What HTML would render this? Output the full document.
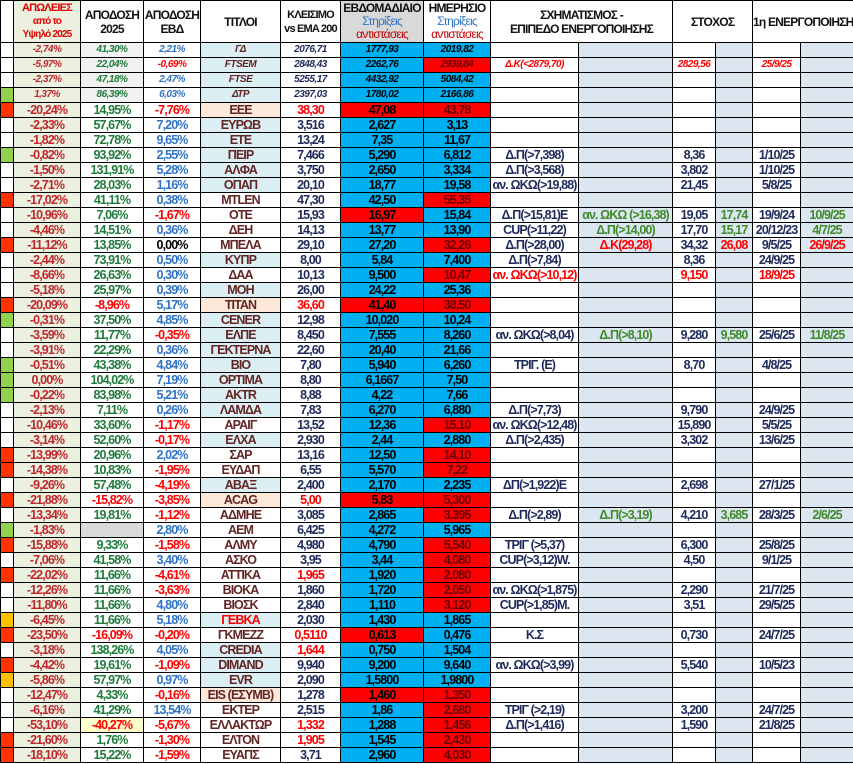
<!DOCTYPE html><html><head><meta charset="utf-8"><style>
body{margin:0;background:#fff;font-family:"Liberation Sans",sans-serif;}
table{border-collapse:collapse;table-layout:fixed;width:853px;}
tr{height:15px}
td{border:1px solid #000;padding:0;text-align:center;font-weight:bold;font-size:12.5px;letter-spacing:-0.9px;line-height:12px;white-space:nowrap;overflow:hidden;}
thead tr{height:42px}
thead td{font-size:12px;line-height:14px;color:#111;letter-spacing:-0.8px}
tbody td:nth-child(2){background:#ebf1de;color:#c0262d}
tbody td:nth-child(3){color:#1e7b3a}
tbody td:nth-child(4){color:#2f73c8}
tbody td:nth-child(5){color:#632523}
tbody td:nth-child(6){color:#1f2a5c}
tbody td:nth-child(7){background:#00b0f0;color:#000}
tbody td:nth-child(8){background:#00b0f0;color:#000}
tbody td:nth-child(9){color:#1f2a5c}
tbody td:nth-child(10){background:#dce6f1;color:#3f8a2a}
tbody td:nth-child(11){color:#1f2a5c}
tbody td:nth-child(12){background:#dce6f1;color:#3f8a2a}
tbody td:nth-child(13){color:#1f2a5c}
tbody td:nth-child(14){background:#dce6f1;color:#3f8a2a}
tbody td.R{background:#f00!important;color:#000}
tbody td:nth-child(8).R{color:#600}
tbody td.r{color:#f00!important}
tbody td.k{color:#000!important}
tr.ix td{font-style:italic;font-size:10px;letter-spacing:-0.5px}
tr.ix td:nth-child(3){background:#f2f2f2}
.lb{background:#daeef3}.pc{background:#fde9d9}
.G{background:#92d050}.O{background:#ff3300}.Y{background:#ffc000}
td.gy{background:#d9d9d9!important}td.yl{background:#ffffcc!important}
</style></head><body>
<table>
<colgroup><col style="width:13px"><col style="width:67px"><col style="width:63px"><col style="width:57px"><col style="width:80px"><col style="width:60px"><col style="width:83px"><col style="width:67px"><col style="width:88px"><col style="width:94px"><col style="width:43px"><col style="width:37px"><col style="width:48px"><col style="width:53px"></colgroup>
<thead><tr>
<td></td>
<td style="background:#ebf1de;color:#e00000;font-size:11px;line-height:13px">ΑΠΩΛΕΙΕΣ<br><span style="font-size:10px">από το<br>Υψηλό 2025</span></td>
<td>ΑΠΟΔΟΣΗ<br>2025</td>
<td>ΑΠΟΔΟΣΗ<br>ΕΒΔ</td>
<td>ΤΙΤΛΟΙ</td>
<td style="font-size:11px">ΚΛΕΙΣΙΜΟ<br>vs EMA 200</td>
<td style="background:#d9d9d9;line-height:13px">ΕΒΔΟΜΑΔΙΑΙΟ<br><span style="color:#2f73c8;font-weight:normal">Στηρίξεις</span><br><span style="color:#c00000;font-weight:normal">αντιστάσεις</span></td>
<td style="line-height:13px">ΗΜΕΡΗΣΙΟ<br><span style="color:#2f73c8;font-weight:normal">Στηρίξεις</span><br><span style="color:#c00000;font-weight:normal">αντιστάσεις</span></td>
<td colspan="2">ΣΧΗΜΑΤΙΣΜΟΣ -<br>ΕΠΙΠΕΔΟ ΕΝΕΡΓΟΠΟΙΗΣΗΣ</td>
<td colspan="2">ΣΤΟΧΟΣ</td>
<td colspan="2">1η ΕΝΕΡΓΟΠΟΙΗΣΗ</td>
</tr></thead>
<tbody>
<tr class="ix"><td></td><td>-2,74%</td><td>41,30%</td><td>2,21%</td><td class="lb">ΓΔ</td><td>2076,71</td><td>1777,93</td><td>2019,82</td><td></td><td></td><td></td><td></td><td></td><td></td></tr>
<tr class="ix"><td></td><td>-5,97%</td><td>22,04%</td><td class="r">-0,69%</td><td class="lb">FTSEM</td><td>2848,43</td><td>2262,76</td><td class="R">2939,84</td><td class="r">Δ.Κ(&lt;2879,70)</td><td></td><td class="r">2829,56</td><td></td><td class="r">25/9/25</td><td></td></tr>
<tr class="ix"><td></td><td>-2,37%</td><td>47,18%</td><td>2,47%</td><td class="lb">FTSE</td><td>5255,17</td><td>4432,92</td><td>5084,42</td><td></td><td></td><td></td><td></td><td></td><td></td></tr>
<tr class="ix"><td class="G"></td><td>1,37%</td><td>86,39%</td><td>6,03%</td><td class="lb">ΔΤΡ</td><td>2397,03</td><td>1780,02</td><td>2166,86</td><td></td><td></td><td></td><td></td><td></td><td></td></tr>
<tr><td class="O"></td><td>-20,24%</td><td>14,95%</td><td class="r">-7,76%</td><td class="pc">ΕΕΕ</td><td class="r">38,30</td><td class="R">47,08</td><td class="R">43,78</td><td></td><td></td><td></td><td></td><td></td><td></td></tr>
<tr><td></td><td>-2,33%</td><td>57,67%</td><td>7,20%</td><td class="lb">ΕΥΡΩΒ</td><td>3,516</td><td>2,627</td><td>3,13</td><td></td><td></td><td></td><td></td><td></td><td></td></tr>
<tr><td></td><td>-1,82%</td><td>72,78%</td><td>9,65%</td><td class="lb">ΕΤΕ</td><td>13,24</td><td>7,35</td><td>11,67</td><td></td><td></td><td></td><td></td><td></td><td></td></tr>
<tr><td class="G"></td><td>-0,82%</td><td>93,92%</td><td>2,55%</td><td class="lb">ΠΕΙΡ</td><td>7,466</td><td>5,290</td><td>6,812</td><td>Δ.Π(&gt;7,398)</td><td></td><td>8,36</td><td></td><td>1/10/25</td><td></td></tr>
<tr><td></td><td>-1,50%</td><td>131,91%</td><td>5,28%</td><td class="lb">ΑΛΦΑ</td><td>3,750</td><td>2,650</td><td>3,334</td><td>Δ.Π(&gt;3,568)</td><td></td><td>3,802</td><td></td><td>1/10/25</td><td></td></tr>
<tr><td></td><td>-2,71%</td><td>28,03%</td><td>1,16%</td><td class="lb">ΟΠΑΠ</td><td>20,10</td><td>18,77</td><td>19,58</td><td>αν. ΩΚΩ(&gt;19,88)</td><td></td><td>21,45</td><td></td><td>5/8/25</td><td></td></tr>
<tr><td class="O"></td><td>-17,02%</td><td>41,11%</td><td>0,38%</td><td>MTLEN</td><td>47,30</td><td>42,50</td><td class="R">55,35</td><td></td><td></td><td></td><td></td><td></td><td></td></tr>
<tr><td></td><td>-10,96%</td><td>7,06%</td><td class="r">-1,67%</td><td>ΟΤΕ</td><td>15,93</td><td class="R">16,97</td><td>15,84</td><td>Δ.Π(&gt;15,81)Ε</td><td>αν. ΩΚΩ (&gt;16,38)</td><td>19,05</td><td>17,74</td><td>19/9/24</td><td>10/9/25</td></tr>
<tr><td></td><td>-4,46%</td><td>14,51%</td><td>0,36%</td><td>ΔΕΗ</td><td>14,13</td><td>13,77</td><td>13,90</td><td>CUP(&gt;11,22)</td><td>Δ.Π(&gt;14,00)</td><td>17,70</td><td>15,17</td><td>20/12/23</td><td>4/7/25</td></tr>
<tr><td class="O"></td><td>-11,12%</td><td>13,85%</td><td class="k">0,00%</td><td>ΜΠΕΛΑ</td><td>29,10</td><td>27,20</td><td class="R">32,26</td><td>Δ.Π(&gt;28,00)</td><td class="r">Δ.Κ(29,28)</td><td>34,32</td><td class="r">26,08</td><td>9/5/25</td><td class="r">26/9/25</td></tr>
<tr><td></td><td>-2,44%</td><td>73,91%</td><td>0,50%</td><td class="lb">ΚΥΠΡ</td><td>8,00</td><td>5,84</td><td>7,400</td><td>Δ.Π(&gt;7,84)</td><td></td><td>8,36</td><td></td><td>24/9/25</td><td></td></tr>
<tr><td></td><td>-8,66%</td><td>26,63%</td><td>0,30%</td><td>ΔΑΑ</td><td>10,13</td><td>9,500</td><td class="R">10,47</td><td class="r">αν. ΩΚΩ(&gt;10,12)</td><td></td><td class="r">9,150</td><td></td><td class="r">18/9/25</td><td></td></tr>
<tr><td></td><td>-5,18%</td><td>25,97%</td><td>0,39%</td><td class="lb">ΜΟΗ</td><td>26,00</td><td>24,22</td><td>25,36</td><td></td><td></td><td></td><td></td><td></td><td></td></tr>
<tr><td class="O"></td><td>-20,09%</td><td class="r">-8,96%</td><td>5,17%</td><td class="pc">ΤΙΤΑΝ</td><td class="r">36,60</td><td class="R">41,40</td><td class="R">38,50</td><td></td><td></td><td></td><td></td><td></td><td></td></tr>
<tr><td class="G"></td><td>-0,31%</td><td>37,50%</td><td>4,85%</td><td class="lb">CENER</td><td>12,98</td><td>10,020</td><td>10,24</td><td></td><td></td><td></td><td></td><td></td><td></td></tr>
<tr><td></td><td>-3,59%</td><td>11,77%</td><td class="r">-0,35%</td><td class="lb">ΕΛΠΕ</td><td>8,450</td><td>7,555</td><td>8,260</td><td>αν. ΩΚΩ(&gt;8,04)</td><td>Δ.Π(&gt;8,10)</td><td>9,280</td><td>9,580</td><td>25/6/25</td><td>11/8/25</td></tr>
<tr><td></td><td>-3,91%</td><td>22,29%</td><td>0,36%</td><td class="lb">ΓΕΚΤΕΡΝΑ</td><td>22,60</td><td>20,40</td><td>21,66</td><td></td><td></td><td></td><td></td><td></td><td></td></tr>
<tr><td class="G"></td><td>-0,51%</td><td>43,38%</td><td>4,84%</td><td class="lb">ΒΙΟ</td><td>7,80</td><td>5,940</td><td>6,260</td><td>ΤΡΙΓ. (Ε)</td><td></td><td>8,70</td><td></td><td>4/8/25</td><td></td></tr>
<tr><td class="G"></td><td>0,00%</td><td>104,02%</td><td>7,19%</td><td class="lb">OPTIMA</td><td>8,80</td><td>6,1667</td><td>7,50</td><td></td><td></td><td></td><td></td><td></td><td></td></tr>
<tr><td class="G"></td><td>-0,22%</td><td>83,98%</td><td>5,21%</td><td class="lb">AKTR</td><td>8,88</td><td>4,22</td><td>7,66</td><td></td><td></td><td></td><td></td><td></td><td></td></tr>
<tr><td></td><td>-2,13%</td><td>7,11%</td><td>0,26%</td><td class="lb">ΛΑΜΔΑ</td><td>7,83</td><td>6,270</td><td>6,880</td><td>Δ.Π(&gt;7,73)</td><td></td><td>9,790</td><td></td><td>24/9/25</td><td></td></tr>
<tr><td></td><td>-10,46%</td><td>33,60%</td><td class="r">-1,17%</td><td>ΑΡΑΙΓ</td><td>13,52</td><td>12,36</td><td class="R">15,10</td><td>αν. ΩΚΩ(&gt;12,48)</td><td></td><td>15,890</td><td></td><td>5/5/25</td><td></td></tr>
<tr><td></td><td>-3,14%</td><td>52,60%</td><td class="r">-0,17%</td><td class="lb">ΕΛΧΑ</td><td>2,930</td><td>2,44</td><td>2,880</td><td>Δ.Π(&gt;2,435)</td><td></td><td>3,302</td><td></td><td>13/6/25</td><td></td></tr>
<tr><td class="O"></td><td>-13,99%</td><td>20,96%</td><td>2,02%</td><td>ΣΑΡ</td><td>13,16</td><td>12,50</td><td class="R">14,10</td><td></td><td></td><td></td><td></td><td></td><td></td></tr>
<tr><td class="O"></td><td>-14,38%</td><td>10,83%</td><td class="r">-1,95%</td><td>ΕΥΔΑΠ</td><td>6,55</td><td>5,570</td><td class="R">7,22</td><td></td><td></td><td></td><td></td><td></td><td></td></tr>
<tr><td></td><td>-9,26%</td><td>57,48%</td><td class="r">-4,19%</td><td class="lb">ΑΒΑΞ</td><td>2,400</td><td>2,170</td><td>2,235</td><td>ΔΠ(&gt;1,922)Ε</td><td></td><td>2,698</td><td></td><td>27/1/25</td><td></td></tr>
<tr><td class="O"></td><td>-21,88%</td><td class="r">-15,82%</td><td class="r">-3,85%</td><td class="pc">ACAG</td><td class="r">5,00</td><td class="R">5,83</td><td class="R">5,300</td><td></td><td></td><td></td><td></td><td></td><td></td></tr>
<tr><td></td><td>-13,34%</td><td>19,81%</td><td class="r">-1,12%</td><td>ΑΔΜΗΕ</td><td>3,085</td><td>2,865</td><td class="R">3,395</td><td>Δ.Π(&gt;2,89)</td><td>Δ.Π(&gt;3,19)</td><td>4,210</td><td>3,685</td><td>28/3/25</td><td>2/6/25</td></tr>
<tr><td class="G"></td><td>-1,83%</td><td class="gy"></td><td>2,80%</td><td>ΑΕΜ</td><td>6,425</td><td>4,272</td><td>5,965</td><td></td><td></td><td></td><td></td><td></td><td></td></tr>
<tr><td class="O"></td><td>-15,88%</td><td>9,33%</td><td class="r">-1,58%</td><td>ΑΛΜΥ</td><td>4,980</td><td>4,790</td><td class="R">5,540</td><td>ΤΡΙΓ (&gt;5,37)</td><td></td><td>6,300</td><td></td><td>25/8/25</td><td></td></tr>
<tr><td></td><td>-7,06%</td><td>41,58%</td><td>3,40%</td><td>ΑΣΚΟ</td><td>3,95</td><td>3,44</td><td class="R">4,080</td><td>CUP(&gt;3,12)W.</td><td></td><td>4,50</td><td></td><td>9/1/25</td><td></td></tr>
<tr><td class="O"></td><td>-22,02%</td><td>11,66%</td><td class="r">-4,61%</td><td>ΑΤΤΙΚΑ</td><td class="r">1,965</td><td>1,920</td><td class="R">2,080</td><td></td><td></td><td></td><td></td><td></td><td></td></tr>
<tr><td></td><td>-12,26%</td><td>11,66%</td><td class="r">-3,63%</td><td>ΒΙΟΚΑ</td><td>1,860</td><td>1,720</td><td class="R">2,050</td><td>αν. ΩΚΩ(&gt;1,875)</td><td></td><td>2,290</td><td></td><td>21/7/25</td><td></td></tr>
<tr><td></td><td>-11,80%</td><td>11,66%</td><td>4,80%</td><td>ΒΙΟΣΚ</td><td>2,840</td><td>1,110</td><td class="R">3,120</td><td>CUP(&gt;1,85)M.</td><td></td><td>3,51</td><td></td><td>29/5/25</td><td></td></tr>
<tr><td class="Y"></td><td>-6,45%</td><td>11,66%</td><td>5,18%</td><td class="lb r">ΓΕΒΚΑ</td><td>2,030</td><td>1,430</td><td>1,865</td><td></td><td></td><td></td><td></td><td></td><td></td></tr>
<tr><td class="O"></td><td>-23,50%</td><td class="r">-16,09%</td><td class="r">-0,20%</td><td>ΓΚΜΕΖΖ</td><td class="r">0,5110</td><td class="R">0,613</td><td>0,476</td><td>Κ.Σ</td><td></td><td>0,730</td><td></td><td>24/7/25</td><td></td></tr>
<tr><td></td><td>-3,18%</td><td>138,26%</td><td>4,05%</td><td class="lb">CREDIA</td><td class="r">1,644</td><td>0,750</td><td>1,504</td><td></td><td></td><td></td><td></td><td></td><td></td></tr>
<tr><td class="O"></td><td>-4,42%</td><td>19,61%</td><td class="r">-1,09%</td><td class="lb">DIMAND</td><td>9,940</td><td>9,200</td><td>9,640</td><td>αν. ΩΚΩ(&gt;3,99)</td><td></td><td>5,540</td><td></td><td>10/5/23</td><td></td></tr>
<tr><td class="Y"></td><td>-5,86%</td><td>57,97%</td><td>0,97%</td><td class="lb">EVR</td><td>2,090</td><td>1,5800</td><td>1,9800</td><td></td><td></td><td></td><td></td><td></td><td></td></tr>
<tr><td></td><td>-12,47%</td><td>4,33%</td><td class="r">-0,16%</td><td class="pc">EIS (ΕΣΥΜΒ)</td><td>1,278</td><td class="R">1,460</td><td class="R">1,350</td><td></td><td></td><td></td><td></td><td></td><td></td></tr>
<tr><td></td><td>-6,16%</td><td>41,29%</td><td>13,54%</td><td>ΕΚΤΕΡ</td><td>2,515</td><td>1,86</td><td class="R">2,680</td><td>ΤΡΙΓ (&gt;2,19)</td><td></td><td>3,200</td><td></td><td>24/7/25</td><td></td></tr>
<tr><td></td><td>-53,10%</td><td class="r yl">-40,27%</td><td class="r">-5,67%</td><td>ΕΛΛΑΚΤΩΡ</td><td class="r">1,332</td><td>1,288</td><td class="R">1,456</td><td>Δ.Π(&gt;1,416)</td><td></td><td>1,590</td><td></td><td>21/8/25</td><td></td></tr>
<tr><td class="O"></td><td>-21,60%</td><td>1,76%</td><td class="r">-1,30%</td><td>ΕΛΤΟΝ</td><td class="r">1,905</td><td>1,545</td><td class="R">2,430</td><td></td><td></td><td></td><td></td><td></td><td></td></tr>
<tr><td class="O"></td><td>-18,10%</td><td>15,22%</td><td class="r">-1,59%</td><td>ΕΥΑΠΣ</td><td>3,71</td><td>2,960</td><td class="R">4,030</td><td></td><td></td><td></td><td></td><td></td><td></td></tr>
</tbody></table>
</body></html>
